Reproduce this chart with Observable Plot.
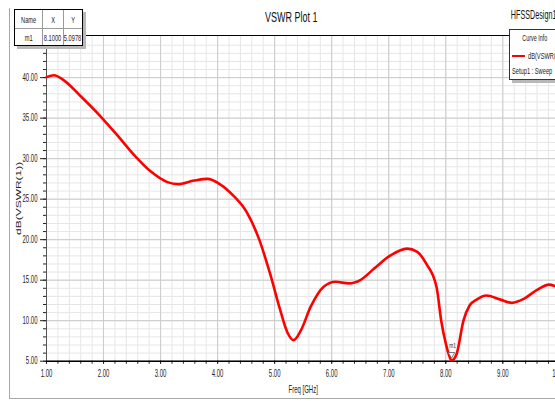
<!DOCTYPE html>
<html>
<head>
<meta charset="utf-8">
<script src="https://cdn.jsdelivr.net/npm/d3@7"></script>
<script src="https://cdn.jsdelivr.net/npm/@observablehq/plot@0.6"></script>
<style>
  html, body { margin: 0; padding: 0; background: #fff; overflow: hidden; }
  #wrap { position: relative; width: 555px; height: 402px; overflow: hidden;
          font-family: "Liberation Sans", Arial, sans-serif; color: #222; }
  #wrap svg { position: absolute; left: 0; top: 0; }
  #outer { position: absolute; left: 9px; top: 8px; width: 600px; height: 390px;
           border-left: 1px solid #a8a8a8; border-bottom: 1px solid #a8a8a8; }
  .sq { display: inline-block; white-space: nowrap; transform: scaleX(0.6); }
  .sql { transform-origin: 0 50%; }
  #markers { position: absolute; left: 14px; top: 9px; box-sizing: border-box;
             width: 69px; height: 37px; display: grid;
             grid-template-columns: 28px 21px 18px; grid-template-rows: 19px 16px;
             border: 1px solid #000; background: #fff; box-shadow: 3px 3px 0 #b8b8b8;
             font-size: 9.5px; }
  #markers div { display: flex; align-items: center; justify-content: center;
                 border-right: 1px solid #9a9a9a; border-bottom: 1px solid #9a9a9a; }
  #markers div.lc { border-right: none; }
  #markers div.lr { border-bottom: none; }
  #legend { position: absolute; left: 509px; top: 29px; width: 70px; height: 51px;
            box-sizing: border-box; border: 1px solid #333; background: #fff;
            box-shadow: 3px 3px 0 #b8b8b8; font-size: 9.5px; }
  #legend .item { position: absolute; line-height: 11px; }
  #legend .swatch { position: absolute; left: 2px; top: 25px; width: 13px; height: 2px; }
</style>
</head>
<body>
<div id="wrap">
  <div id="outer"></div>
</div>
<script>
// Swept frequency (GHz) and return value dB(VSWR(1))
const freqGHz = [1.00, 1.13, 1.30, 1.60, 1.95, 2.24, 2.53, 2.83, 3.12, 3.30,
                 3.59, 3.82, 4.05, 4.28, 4.51, 4.73, 4.92, 5.09, 5.22, 5.33,
                 5.46, 5.63, 5.86, 6.07, 6.30, 6.51, 6.74, 7.03, 7.32, 7.50,
                 7.66, 7.84, 7.92, 8.00, 8.05, 8.10, 8.19, 8.31, 8.42, 8.54,
                 8.71, 8.96, 9.16, 9.37, 9.60, 9.81, 10.00];
const vswrDb  = [40.06, 40.30, 39.70, 37.70, 35.20, 32.90, 30.50, 28.40, 27.10, 26.85,
                 27.30, 27.50, 26.80, 25.40, 23.40, 20.00, 15.80, 11.50, 8.60, 7.60,
                 8.80, 11.70, 14.20, 14.80, 14.60, 15.05, 16.40, 18.05, 18.90, 18.50,
                 17.00, 14.10, 10.00, 7.20, 5.90, 5.0978, 5.90, 10.00, 11.90, 12.60,
                 13.10, 12.60, 12.20, 12.70, 13.80, 14.45, 14.00];

// Axis ticks
const xMajor = [1, 2, 3, 4, 5, 6, 7, 8, 9, 10];
const yMajor = [5, 10, 15, 20, 25, 30, 35, 40];
const xMinor = d3.range(1, 10.001, 0.2).map(d => +d.toFixed(1));
const yMinor = d3.range(5, 44.5, 1);
const yTop = 45.2;

// Texts
const plotTitle = "VSWR Plot 1";
const designName = "HFSSDesign1";
const seriesName = "dB(VSWR(1))";
const setupName = "Setup1 : Sweep";
const xLabel = "Freq [GHz]";
const marker = {name: "m1", f: 8.10, v: 5.0978};

const rows = freqGHz.map((f, i) => ({f, v: vswrDb[i]}));

const plot = Plot.plot({
  width: 580,
  height: 402,
  marginLeft: 46,
  marginRight: 20.65,
  marginTop: 35,
  marginBottom: 41.3,
  x: {domain: [1, 10]},
  y: {domain: [5, yTop]},
  style: {
    fontFamily: "'Liberation Sans', Arial, sans-serif",
    fontSize: "10px",
    color: "#222",
    background: "transparent",
    maxWidth: "none",
    overflow: "visible"
  },
  marks: [
    Plot.ruleX(xMinor, {stroke: "#e6e6e6", strokeWidth: 1}),
    Plot.ruleY(yMinor, {stroke: "#e6e6e6", strokeWidth: 1}),
    Plot.ruleX(xMajor, {stroke: "#cbcbcb", strokeWidth: 1}),
    Plot.ruleY(yMajor, {stroke: "#cbcbcb", strokeWidth: 1}),
    Plot.ruleY([yTop], {stroke: "#000", strokeWidth: 1.2}),
    Plot.ruleX([1], {stroke: "#555"}),
    Plot.axisX({ticks: xMinor, tickSize: 3, tickFormat: () => "", label: null}),
    Plot.axisX({ticks: xMajor, tickSize: 3, tickPadding: 6, tickFormat: d => d.toFixed(2), label: null}),
    Plot.axisY({ticks: yMinor, tickSize: 3, tickFormat: () => "", label: null}),
    Plot.axisY({ticks: yMajor, tickSize: 6, tickPadding: 3, tickFormat: d => d.toFixed(2), label: null}),
    Plot.ruleY([5], {stroke: "#000", strokeWidth: 1.4}),
    Plot.line(rows, {x: "f", y: "v", stroke: "#ff0000", strokeWidth: 2.6, curve: "monotone-x"}),
    Plot.dot([marker], {x: "f", y: "v", symbol: "triangle", r: 2.4, rotate: 180,
                        stroke: "#555", fill: "#fff", strokeWidth: 0.8, dy: -6}),
    Plot.text([marker], {x: "f", y: "v", text: "name", dy: -15, dx: 1, fontSize: 8, fill: "#333"}),
    Plot.text([seriesName], {frameAnchor: "left", textAnchor: "middle", lineAnchor: "middle",
                             rotate: -90, dx: -28, fontSize: 12}),
    Plot.text([xLabel], {frameAnchor: "bottom", textAnchor: "middle", lineAnchor: "middle", dy: 29}),
    Plot.text([plotTitle], {frameAnchor: "top", textAnchor: "middle", lineAnchor: "middle",
                            dx: -12, dy: -18, fontSize: 15, fill: "#111"}),
    Plot.text([designName], {frameAnchor: "top-right", textAnchor: "start", lineAnchor: "middle",
                             dx: -49, dy: -20, fontSize: 12, fill: "#111"})
  ]
});

// Condensed lettering: squeeze every label horizontally around its anchor
const K = 0.6;
plot.querySelectorAll("text").forEach(t => {
  const tr = t.getAttribute("transform") || "";
  if (/rotate/.test(tr)) {
    t.setAttribute("transform", `${tr} scale(1,${K})`);
  } else {
    const ax = parseFloat(t.getAttribute("x") || 0) || 0;
    t.setAttribute("transform", `${tr} translate(${ax},0) scale(${K},1) translate(${-ax},0)`.trim());
  }
});

const wrap = document.getElementById("wrap");
wrap.appendChild(plot);

// Marker readout table
const table = document.createElement("div");
table.id = "markers";
const cells = [
  ["Name", "", ""], ["X", "", ""], ["Y", "lc", ""],
  [marker.name, "", "lr"], [marker.f.toFixed(4), "", "lr"], [marker.v.toFixed(4), "lc", "lr"]
];
cells.forEach(([txt, c1, c2]) => {
  const d = document.createElement("div");
  if (c1) d.classList.add(c1);
  if (c2) d.classList.add(c2);
  d.innerHTML = `<span class="sq">${txt}</span>`;
  table.appendChild(d);
});
wrap.appendChild(table);

// Curve info box
const legend = document.createElement("div");
legend.id = "legend";
legend.innerHTML = `
  <div class="item" style="left:0;width:50px;top:3px;text-align:center;font-size:9px"><span class="sq">Curve Info</span></div>
  <div class="swatch" style="background:#ff0000"></div>
  <div class="item" style="left:18px;top:20px;"><span class="sq sql">${seriesName}</span></div>
  <div class="item" style="left:2px;top:35px;"><span class="sq sql">${setupName}</span></div>`;
wrap.appendChild(legend);
</script>
</body>
</html>
